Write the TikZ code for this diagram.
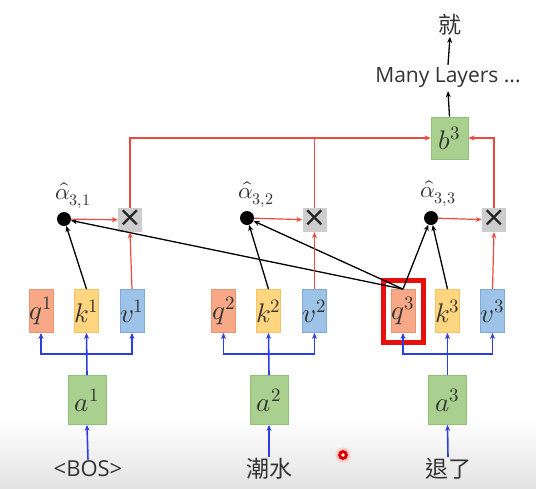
\documentclass[tikz,border=0pt]{standalone}
\usepackage{amsmath}
\usepackage{fontspec}
\usepackage{unicode-math}
\setmainfont{Open Sans}
\setmathfont{Latin Modern Math}
\newfontfamily\cjk{Noto Sans CJK TC}
\usetikzlibrary{arrows.meta}
\definecolor{QueryFill}{HTML}{F7A886}
\definecolor{QueryDraw}{HTML}{EA9474}
\definecolor{KeyFill}{HTML}{FFD580}
\definecolor{KeyDraw}{HTML}{F2C466}
\definecolor{ValueFill}{HTML}{9DC3E8}
\definecolor{ValueDraw}{HTML}{80A9D8}
\definecolor{EmbFill}{HTML}{A9D08E}
\definecolor{EmbDraw}{HTML}{92BF79}
\definecolor{MulFill}{HTML}{CDCDCD}
\definecolor{FlowBlue}{HTML}{2B3EE4}
\definecolor{FlowRed}{HTML}{EC4A3E}
\definecolor{MarkRed}{HTML}{E8100E}
\definecolor{TextGray}{HTML}{333333}

\begin{document}
\begin{tikzpicture}[x=1pt, y=-1pt,
    box/.style={inner sep=0pt, minimum width=24pt, minimum height=43pt, line width=0.8pt,
      text=TextGray, font=\fontsize{27}{28}\selectfont},
    qbox/.style={box, draw=QueryDraw, fill=QueryFill},
    kbox/.style={box, draw=KeyDraw, fill=KeyFill},
    vbox/.style={box, draw=ValueDraw, fill=ValueFill},
    embbox/.style={box, draw=EmbDraw, fill=EmbFill, minimum width=38pt, minimum height=49pt},
    mulbox/.style={inner sep=0pt, minimum size=24pt, fill=MulFill, text=black!85, font=\fontsize{36}{36}\selectfont},
    dot/.style={circle, fill=black, inner sep=0pt, minimum size=14pt},
    weight/.style={text=TextGray, inner sep=0pt, anchor=south, font=\fontsize{23}{23}\selectfont},
    word/.style={text=TextGray, inner sep=1pt, font=\fontsize{22}{22}\selectfont},
    blueflow/.style={FlowBlue, line width=1.6pt},
    redflow/.style={FlowRed, line width=1.2pt},
    attn/.style={black, line width=1.3pt},
    tip/.style={-{Stealth[length=6pt, width=5pt]}}]
  \useasboundingbox (0,0) rectangle (536,488);
  % Background
  \fill[white] (0,0) rectangle (536,488);
  \shade[top color=white, bottom color=black!11] (0,418) rectangle (536,488);

  % Inputs
  \node[word] (w1) at (88,469) {<BOS>};
  \node[word, font=\cjk\fontsize{23}{23}\selectfont] (w2) at (269,469) {潮水};
  \node[word, font=\cjk\fontsize{23}{23}\selectfont] (w3) at (448,469) {退了};
  \node[embbox] (a1) at (87,400) {$a^1$};
  \node[embbox] (a2) at (269,400) {$a^2$};
  \node[embbox] (a3) at (447.5,400) {$a^3$};

  % Queries, keys, values
  \node[draw=MarkRed, line width=5pt, minimum width=40pt, minimum height=62pt] (mark) at (403.5,311.5) {};
  \node[qbox] (q1) at (41,311) {$q^1$};
  \node[kbox] (k1) at (86.5,311) {$k^1$};
  \node[vbox] (v1) at (132,311) {$v^1$};
  \node[qbox] (q2) at (223.5,311) {$q^2$};
  \node[kbox] (k2) at (268.5,311) {$k^2$};
  \node[vbox] (v2) at (314.5,311) {$v^2$};
  \node[qbox] (q3) at (403,311) {$q^3$};
  \node[kbox] (k3) at (447.5,311) {$k^3$};
  \node[vbox] (v3) at (492.5,311) {$v^3$};

  % Attention weights
  \node[dot] (d1) at (64,219) {};
  \node[dot] (d2) at (247,218) {};
  \node[dot] (d3) at (431,218) {};
  \node[weight] at ([xshift=9pt, yshift=3pt]d1.north) {$\hat{\alpha}_{3,1}$};
  \node[weight] at ([xshift=9pt, yshift=3pt]d2.north) {$\hat{\alpha}_{3,2}$};
  \node[weight] at ([xshift=7pt, yshift=4pt]d3.north) {$\hat{\alpha}_{3,3}$};
  \node[mulbox] (m1) at (130,220) {×};
  \node[mulbox] (m2) at (314.5,220) {×};
  \node[mulbox] (m3) at (494,220) {×};

  % Output
  \node[embbox, minimum width=37pt, minimum height=42pt] (b3) at (449.5,138) {$b^3$};
  \node[word, font=\fontsize{21}{21}\selectfont, inner sep=3pt] (layers) at (448,78) {Many Layers ...};
  \node[word, font=\cjk\fontsize{23}{23}\selectfont] (out) at (450,25) {就};

  % Blue paths
  \foreach \i in {1,2,3} {
    \draw[blueflow, tip] (w\i.north) -- (a\i.south);
    \coordinate (s\i) at ([yshift=21pt]a\i.north);
    \draw[blueflow, tip] (a\i.north) -- (k\i.south);
    \draw[blueflow, tip] (s\i) -| (q\i.south);
    \draw[blueflow, tip] (s\i) -| (v\i.south);
  }

  % Query times keys
  \draw[attn, tip] (k1.north) -- (d1);
  \draw[attn, tip] (q3.north) -- (d1);
  \draw[attn, tip] (k2.north) -- (d2);
  \draw[attn, tip] (q3.north) -- (d2);
  \draw[attn, tip] (q3.north) -- (d3);
  \draw[attn, tip] (k3.north) -- (d3);

  % Weighted values
  \foreach \i in {1,2,3} {
    \draw[redflow, tip] (d\i) -- (m\i);
    \draw[redflow, tip] (v\i.north) -- (m\i.south);
  }
  \draw[redflow, tip] (m1.north) |- (b3.west);
  \draw[redflow] (m2.north) -- (m2.north |- b3.west);
  \draw[redflow, tip] (m3.north) |- (b3.east);

  \draw[attn, tip] (b3.north) -- (layers.south);
  \draw[attn, tip] (layers.north) -- (out.south);

  % Pointer
  \fill[red!20] (343,455) circle (7.5);
  \fill[red!85!black] (343,455) circle (5);
  \fill[white] (343,455) circle (1.8);
\end{tikzpicture}
\end{document}
